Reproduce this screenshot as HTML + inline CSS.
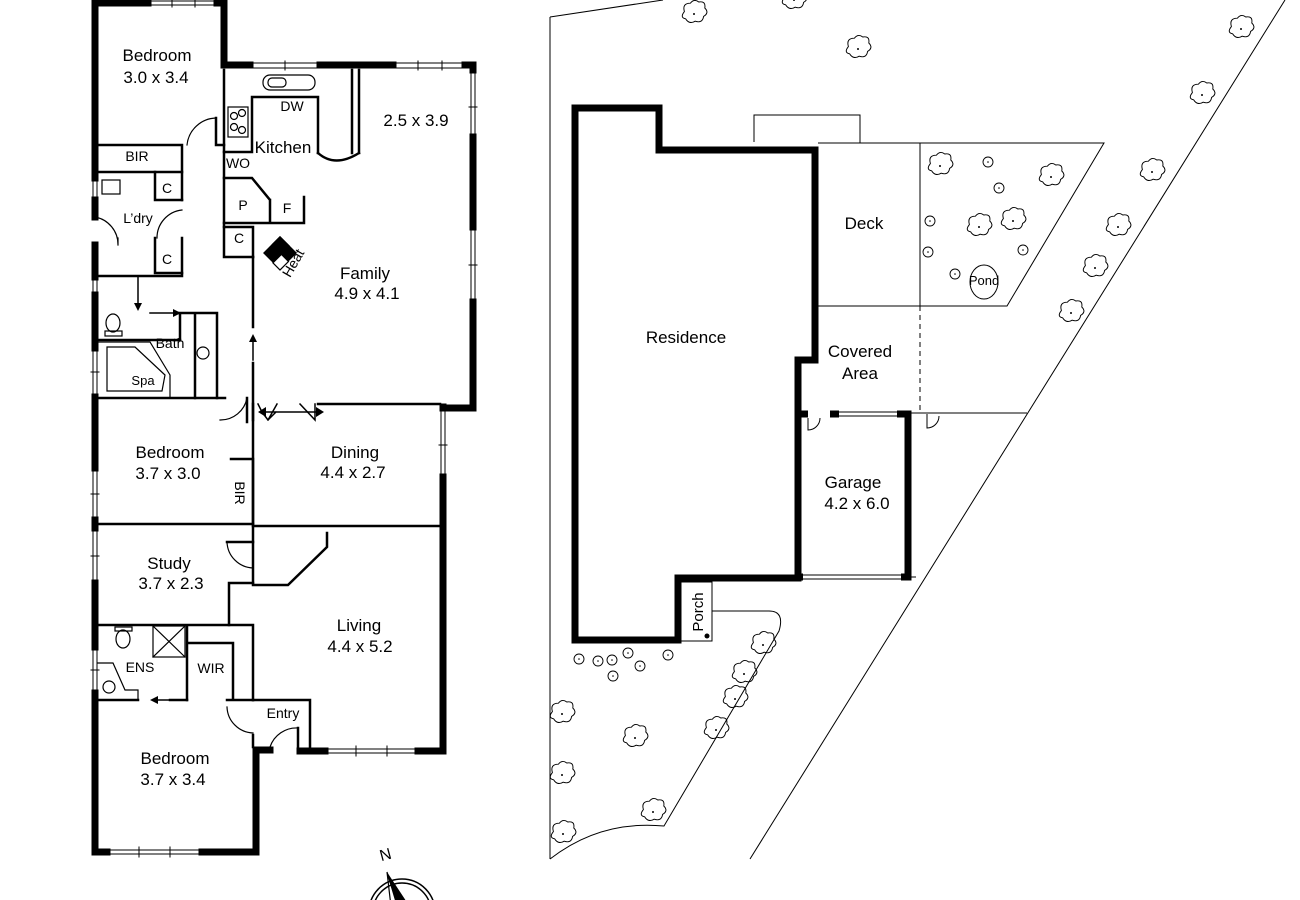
<!DOCTYPE html>
<html><head><meta charset="utf-8"><style>
html,body{margin:0;padding:0;background:#fff;}
svg{display:block;}
text{font-family:"Liberation Sans",sans-serif;fill:#000;}
</style></head><body>
<svg width="1300" height="900" viewBox="0 0 1300 900" xmlns="http://www.w3.org/2000/svg">
<defs>
<g id="tr"><g transform="scale(1.2)"><path d="M-8,-2 q-2,-7 5,-7 q3,-4 7,-1 q6,-1 5,5 q4,4 -1,7 q-1,6 -7,4 q-5,3 -8,-2 q-5,-1 -1,-6z" fill="none" stroke="#000" stroke-width="0.8"/></g><circle r="1" fill="#000"/></g>
<g id="ts"><circle r="5" fill="none" stroke="#000" stroke-width="0.9"/><circle r="0.8" fill="#000"/></g>
</defs>
<g fill="none" stroke="#000" stroke-linecap="square">
<g stroke-width="7">
<path d="M95,0 V178"/><path d="M95,200 V217"/><path d="M95,245 V277"/><path d="M95,295 V348"/><path d="M95,397 V468"/><path d="M95,520 V528"/><path d="M95,583 V647"/><path d="M95,693 V852 H107"/>
<path d="M202,852 H256 V750 H270"/>
<path d="M95,3 H148"/><path d="M217,3 H224 V65 H250"/>
<path d="M320,65 H393"/><path d="M465,65 H473 V70"/>
<path d="M473,137 V227"/><path d="M473,302 V408 H443 V407"/>
<path d="M443,477 V751 H418"/><path d="M325,751 H300"/>
</g>
<g stroke-width="1">
<path d="M148,1 H217 M148,5 H217 M172,0 V7 M195,0 V7"/>
<path d="M250,63 H320 M250,68 H320 M285,61 V70"/>
<path d="M393,63 H465 M393,68 H465 M418,61 V70 M442,61 V70"/>
<path d="M471,70 V137 M475,70 V137 M469,107 H477"/>
<path d="M471,227 V302 M475,227 V302 M469,265 H477"/>
<path d="M441,408 V477 M445,408 V477 M439,445 H447"/>
<path d="M325,749 H418 M325,753 H418 M356,746 V756 M387,746 V756"/>
<path d="M107,850 H202 M107,854 H202 M139,847 V857 M170,847 V857"/>
<path d="M93,178 V200 M97,178 V200"/>
<path d="M93,277 V295 M97,277 V295"/>
<path d="M93,348 V397 M97,348 V397 M91,372 H99"/>
<path d="M93,468 V520 M97,468 V520 M91,494 H99"/>
<path d="M93,528 V583 M97,528 V583 M91,556 H99"/>
<path d="M93,647 V693 M97,647 V693 M91,670 H99"/>
</g>
<g stroke-width="2.5">
<path d="M98,145 H182 V200"/><path d="M98,172 H182"/><path d="M182,238 V276 H98"/>
<path d="M155,172 V200 H182 M155,238 V273 H182"/>
<path d="M224,70 V257 H253"/><path d="M216,118 V145 H224"/>
<path d="M180,313 V340 M177,313 H217 V398 M195,313 V398"/>
<path d="M98,340 H180"/><path d="M98,398 H225"/>
<path d="M224,152 H252 V97 H318 V153 M224,178 H252 L270,200 V223 M224,223 H304 V197 M270,200 V223"/>
<path d="M224,227 H253 V257"/>
<path d="M253,257 V327 M253,363 V420 M247,398 V422"/>
<path d="M352,70 V153 M359,70 V153 M318,153 Q335,168 359,153"/>
<path d="M318,404 H440"/>
<path d="M253,404 V583"/><path d="M231,459 H253 V523"/>
<path d="M98,524 H253"/><path d="M253,526 H440"/>
<path d="M327,533 V547 L288,585 H253"/>
<path d="M227,542 H253"/>
<path d="M229,583 V625 M229,583 H253"/>
<path d="M98,625 H253 V700"/>
<path d="M187,626 V700 M188,643 H233 V698 M227,700 H253"/>
<path d="M98,700 H138 M170,700 H187"/>
<path d="M253,700 H310 V747"/><path d="M253,735 V747"/><path d="M298,728 V750"/>
</g>
<g stroke-width="1.2">
<rect x="228" y="107" width="20" height="30"/>
<circle cx="234" cy="116" r="3.5"/><circle cx="242" cy="113" r="3.5"/><circle cx="234" cy="127" r="3.5"/><circle cx="242" cy="130" r="3.5"/>
<rect x="263" y="75" width="52" height="15" rx="7"/><rect x="268" y="78" width="18" height="9" rx="4"/>
<rect x="102" y="180" width="18" height="14"/>
<path d="M95,217 A28,28 0 0 1 118,245 M118,238 V245"/>
<path d="M182,210 A28,28 0 0 0 157,238"/>
<path d="M216,118 A30,30 0 0 0 187,145"/>
<path d="M98,342 H150 L170,375 V398 M107,347 H135 L165,375 L162,391 H107z"/>
<ellipse cx="113" cy="323" rx="7" ry="9"/><rect x="105" y="331" width="17" height="5"/>
<circle cx="203" cy="353" r="6"/>
<path d="M247,398 A27,27 0 0 1 220,420"/>
<path d="M227,542 A27,27 0 0 0 253,568"/>
<rect x="153" y="626" width="32" height="31"/><path d="M153,626 L185,657 M185,626 L153,657"/>
<ellipse cx="123" cy="639" rx="7" ry="9"/><rect x="115" y="627" width="17" height="4"/>
<path d="M98,663 H113 L125,690 H138 V700"/><circle cx="109" cy="687" r="6"/>
<path d="M227,707 A27,27 0 0 0 253,733"/>
<path d="M270,747 A28,28 0 0 1 298,728"/>
</g>
<g stroke-width="1.5">
<path d="M138,277 V305"/><path d="M150,313 H174"/><path d="M253,340 V360"/>
<path d="M177,700 H155"/>
<path d="M262,412 H318 M262,412 L258,404 M262,412 L268,420 M268,420 L277,404 M276,412 L268,420"/>
<path d="M300,404 L315,420 V404"/>
</g>
</g>
<g fill="#000">
<path d="M134,303 L142,303 L138,311z"/><path d="M173,309 L181,313 L173,317z"/><path d="M249,342 L253,334 L257,342z"/>
<path d="M158,696 L150,700 L158,704z"/>
<path d="M258,412 L266,407 L266,417z"/><path d="M324,412 L316,407 L316,417z"/>
<g transform="translate(280,253) rotate(45)"><rect x="-12" y="-12" width="14" height="24"/><rect x="-12" y="-12" width="24" height="12"/><rect x="2" y="0" width="10" height="12" fill="none" stroke="#000" stroke-width="1.2"/></g>
</g>
<g font-size="17" text-anchor="middle">
<text x="157" y="61">Bedroom</text><text x="156" y="83">3.0 x 3.4</text>
<text x="416" y="126">2.5 x 3.9</text>
<text x="283" y="153">Kitchen</text>
<text x="365" y="279">Family</text><text x="367" y="299">4.9 x 4.1</text>
<text x="170" y="458">Bedroom</text><text x="168" y="479">3.7 x 3.0</text>
<text x="355" y="458">Dining</text><text x="353" y="478">4.4 x 2.7</text>
<text x="169" y="569">Study</text><text x="171" y="589">3.7 x 2.3</text>
<text x="359" y="631">Living</text><text x="360" y="652">4.4 x 5.2</text>
<text x="175" y="764">Bedroom</text><text x="173" y="785">3.7 x 3.4</text>
</g>
<g font-size="14" text-anchor="middle">
<text x="292" y="111">DW</text><text x="238" y="168">WO</text><text x="137" y="161">BIR</text>
<text x="167" y="193">C</text><text x="138" y="223">L’dry</text><text x="167" y="264">C</text>
<text x="243" y="210">P</text><text x="287" y="213">F</text><text x="239" y="243">C</text>
<text x="170" y="348">Bath</text><text x="143" y="385" font-size="13">Spa</text>
<text x="140" y="672">ENS</text><text x="211" y="673">WIR</text><text x="283" y="718">Entry</text>
<text transform="translate(293,263) rotate(-60)" y="5">Heat</text>
<text transform="translate(240,493) rotate(90)" y="5">BIR</text>
</g>
<text x="385" y="860" font-size="16" text-anchor="middle" transform="rotate(-15 385 853)">N</text>
<circle cx="402" cy="912" r="33" fill="none" stroke="#000" stroke-width="1.5"/>
<circle cx="402" cy="912" r="29" fill="none" stroke="#000" stroke-width="1.5"/>
<path d="M387,872 L412,910 L400,915z" fill="#000"/><path d="M387,872 L400,915 L392,915z" fill="none" stroke="#000" stroke-width="1.2"/>
<g fill="none" stroke="#000">
<path d="M550,17 L663,0 M550,17 V859 M1285,0 L750,859 M550,859 Q600,820 664,826 L779,631 Q785,611 769,611 H712" stroke-width="1"/>
<path d="M754,142 V115 H860 V143" stroke-width="1"/>
<path d="M818,143 H1104 L1007,306 H818 M920,143 V306" stroke-width="1"/>
<path d="M920,306 V412" stroke-width="1" stroke-dasharray="5,4"/>
<path d="M908,413 H1027" stroke-width="1"/>
<path d="M908,577 H916" stroke-width="1"/>
<path d="M681,582 H712 V641 H681" stroke-width="1"/>
<path d="M575,108 H659 V150 H815 V360 H798 V578 H678 V640 H575z" stroke-width="7" stroke-linejoin="miter"/>
<path d="M798,414 H808 M830,414 H839 M897,414 H908 V577 H901 M803,577 H798" stroke-width="7"/>
<path d="M839,412 H897 M839,416 H897 M803,575 H901 M803,579 H901" stroke-width="1"/>
<path d="M808,418 V430 A12,12 0 0 0 820,418" stroke-width="1"/>
<path d="M927,414 V428 A12,12 0 0 0 939,416" stroke-width="1"/>
<ellipse cx="984" cy="282" rx="14" ry="17" stroke-width="1"/>
</g>
<circle cx="707" cy="636" r="2.5" fill="#000"/>
<g>
<use href="#tr" x="694" y="14"/><use href="#tr" x="794" y="0"/><use href="#tr" x="858" y="49"/><use href="#tr" x="1241" y="29"/>
<use href="#tr" x="1202" y="95"/><use href="#tr" x="1152" y="172"/><use href="#tr" x="1118" y="227"/><use href="#tr" x="1095" y="268"/><use href="#tr" x="1071" y="313"/>
<use href="#tr" x="940" y="166"/><use href="#ts" x="988" y="162"/><use href="#ts" x="999" y="188"/><use href="#tr" x="1051" y="177"/>
<use href="#ts" x="930" y="221"/><use href="#tr" x="979" y="227"/><use href="#tr" x="1013" y="221"/><use href="#ts" x="1023" y="250"/><use href="#ts" x="928" y="252"/><use href="#ts" x="955" y="274"/>
<use href="#ts" x="579" y="659"/><use href="#ts" x="598" y="661"/><use href="#ts" x="612" y="660"/><use href="#ts" x="628" y="653"/><use href="#ts" x="613" y="676"/><use href="#ts" x="640" y="666"/><use href="#ts" x="668" y="655"/>
<use href="#tr" x="763" y="645"/><use href="#tr" x="744" y="674"/><use href="#tr" x="735" y="699"/><use href="#tr" x="716" y="730"/>
<use href="#tr" x="562" y="714"/><use href="#tr" x="635" y="738"/><use href="#tr" x="562" y="775"/><use href="#tr" x="653" y="812"/><use href="#tr" x="563" y="834"/>
</g>
<g font-size="17" text-anchor="middle">
<text x="686" y="343">Residence</text>
<text x="864" y="229">Deck</text>
<text x="860" y="357">Covered</text><text x="860" y="379">Area</text>
<text x="853" y="488">Garage</text><text x="857" y="509">4.2 x 6.0</text>
<text x="984" y="285" font-size="13">Pond</text>
<text transform="translate(697,612) rotate(-90)" y="6" font-size="15">Porch</text>
</g>
</svg>
</body></html>
